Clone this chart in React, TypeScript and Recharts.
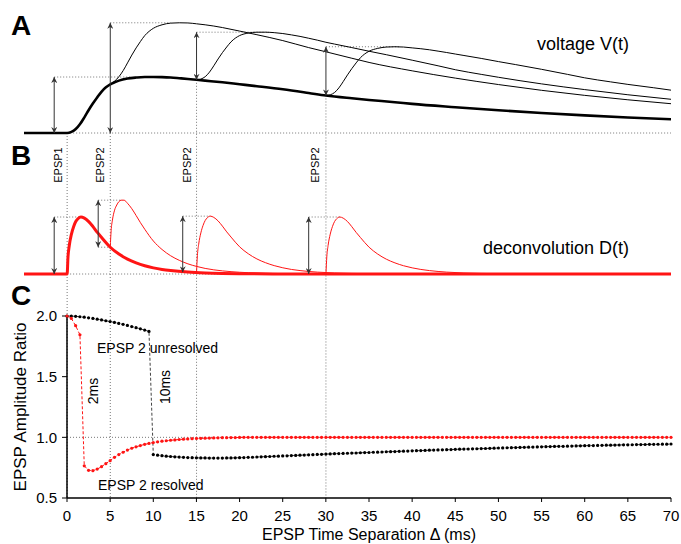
import React from 'react'
import { LineChart, Line, XAxis, YAxis, ReferenceLine } from 'recharts'

const W = 681
const H = 544
const FONT = '"Liberation Sans", Arial, Helvetica, sans-serif'
const GUIDE = '#777'
const ARROW = '#333'
const RED = '#ff1414'

// ---- panel A: voltage V(t), EPSP1 peak = 1 ----
const epsp1Time = [-5, 0, 0.5, 1, 1.5, 2, 2.5, 3, 3.5, 4, 4.5, 5, 5.5, 6, 7, 8, 9, 10, 11, 12, 13, 14, 15, 16, 18, 20, 22, 25, 28, 30, 33, 35, 38, 40, 45, 50, 55, 60, 65, 70]
const epsp1Volt = [0, 0, 0.02, 0.07, 0.16, 0.28, 0.41, 0.53, 0.64, 0.74, 0.815, 0.87, 0.905, 0.935, 0.972, 0.99, 1.0, 1.0, 0.997, 0.99, 0.978, 0.965, 0.95, 0.935, 0.905, 0.87, 0.835, 0.78, 0.715, 0.67, 0.62, 0.59, 0.55, 0.52, 0.46, 0.405, 0.357, 0.315, 0.278, 0.245]

const pair5Time = [5, 5.5, 6, 6.5, 7, 7.5, 8, 8.5, 9, 9.5, 10, 11, 12, 13, 14, 15, 16, 17, 18, 20, 22, 25, 28, 30, 33, 35, 40, 45, 50, 55, 60, 65, 70]
const pair5Volt = [0.87, 0.925, 1.005, 1.115, 1.252, 1.392, 1.52, 1.635, 1.74, 1.815, 1.87, 1.932, 1.962, 1.968, 1.965, 1.95, 1.932, 1.91, 1.883, 1.82, 1.755, 1.65, 1.525, 1.45, 1.335, 1.26, 1.11, 0.98, 0.865, 0.762, 0.672, 0.593, 0.523]

const pair15Time = [15, 15.5, 16, 16.5, 17, 17.5, 18, 18.5, 19, 19.5, 20, 21, 22, 23, 24, 25, 26, 27, 28, 29, 30, 31, 33, 35, 37, 40, 43, 45, 48, 50, 55, 60, 65, 70]
const pair15Volt = [0.95, 0.963, 1.005, 1.087, 1.2, 1.322, 1.435, 1.536, 1.628, 1.694, 1.74, 1.785, 1.8, 1.8, 1.792, 1.776, 1.752, 1.725, 1.692, 1.658, 1.62, 1.588, 1.525, 1.46, 1.398, 1.3, 1.2, 1.13, 1.047, 0.995, 0.877, 0.775, 0.683, 0.602]

const pair30Time = [30, 30.5, 31, 31.5, 32, 32.5, 33, 33.5, 34, 34.5, 35, 36, 37, 38, 39, 40, 41, 42, 43, 44, 45, 46, 48, 50, 52, 55, 58, 60, 63, 65, 68, 70]
const pair30Volt = [0.67, 0.682, 0.723, 0.805, 0.917, 1.038, 1.15, 1.252, 1.345, 1.412, 1.46, 1.511, 1.535, 1.54, 1.535, 1.52, 1.505, 1.486, 1.462, 1.437, 1.41, 1.384, 1.332, 1.275, 1.221, 1.137, 1.047, 0.985, 0.913, 0.868, 0.808, 0.765]

// ---- panel B: deconvolution D(t), EPSP1 peak = 1 ----
const dec1Time = [-5, 0, 0.1, 0.25, 0.5, 0.75, 1, 1.25, 1.6, 2, 2.5, 3, 3.5, 4, 5, 6, 7, 8, 9, 10, 11, 12, 14, 16, 18, 20, 25, 30, 70]
const dec1Val = [0, 0, 0.3, 0.5, 0.7, 0.83, 0.92, 0.97, 1.0, 0.98, 0.92, 0.83, 0.73, 0.64, 0.47, 0.35, 0.26, 0.195, 0.145, 0.108, 0.08, 0.06, 0.033, 0.018, 0.01, 0.006, 0.001, 0, 0]

const dec5Time = [5, 5.1, 5.25, 5.5, 5.75, 6, 6.25, 6.6, 7, 7.5, 8, 8.5, 9, 10, 11, 12, 13, 14, 15, 16, 17, 19, 21, 23, 25, 30, 35]
const dec5Val = [0.47, 0.76, 0.945, 1.12, 1.21, 1.27, 1.295, 1.295, 1.24, 1.145, 1.025, 0.9, 0.785, 0.578, 0.43, 0.32, 0.24, 0.178, 0.133, 0.098, 0.073, 0.041, 0.023, 0.013, 0.007, 0.001, 0]

const dec15Time = [15, 15.1, 15.25, 15.5, 15.75, 16, 16.25, 16.6, 17, 17.5, 18, 18.5, 19, 20, 21, 22, 23, 24, 25, 26, 27, 29, 31, 33, 35, 40, 45]
const dec15Val = [0.025, 0.324, 0.523, 0.721, 0.85, 0.938, 0.987, 1.015, 0.993, 0.931, 0.84, 0.739, 0.648, 0.476, 0.355, 0.264, 0.198, 0.147, 0.109, 0.08, 0.06, 0.033, 0.018, 0.01, 0.006, 0.001, 0]

const dec30Time = [30, 30.1, 30.25, 30.5, 30.75, 31, 31.25, 31.6, 32, 32.5, 33, 33.5, 34, 35, 36, 37, 38, 39, 40, 41, 42, 44, 46, 48, 50, 55, 60]
const dec30Val = [0, 0.3, 0.5, 0.7, 0.83, 0.92, 0.97, 1.0, 0.98, 0.92, 0.83, 0.73, 0.64, 0.47, 0.35, 0.26, 0.195, 0.145, 0.108, 0.08, 0.06, 0.033, 0.018, 0.01, 0.006, 0.001, 0]

// ---- panel C: amplitude ratio vs separation ----
const deltaMs = [
  0, 0.5, 1, 1.5, 2, 2.5, 3, 3.5, 4, 4.5, 5, 5.5, 6, 6.5, 7, 7.5, 8, 8.5, 9, 9.5,
  10, 10.5, 11, 11.5, 12, 12.5, 13, 13.5, 14, 14.5, 15, 15.5, 16, 16.5, 17, 17.5, 18, 18.5, 19, 19.5,
  20, 20.5, 21, 21.5, 22, 22.5, 23, 23.5, 24, 24.5, 25, 25.5, 26, 26.5, 27, 27.5, 28, 28.5, 29, 29.5,
  30, 30.5, 31, 31.5, 32, 32.5, 33, 33.5, 34, 34.5, 35, 35.5, 36, 36.5, 37, 37.5, 38, 38.5, 39, 39.5,
  40, 40.5, 41, 41.5, 42, 42.5, 43, 43.5, 44, 44.5, 45, 45.5, 46, 46.5, 47, 47.5, 48, 48.5, 49, 49.5,
  50, 50.5, 51, 51.5, 52, 52.5, 53, 53.5, 54, 54.5, 55, 55.5, 56, 56.5, 57, 57.5, 58, 58.5, 59, 59.5,
  60, 60.5, 61, 61.5, 62, 62.5, 63, 63.5, 64, 64.5, 65, 65.5, 66, 66.5, 67, 67.5, 68, 68.5, 69, 69.5,
  70,
]
const ratioUnresolved = [
  2.0, 1.999, 1.997, 1.994, 1.99, 1.985, 1.98, 1.974, 1.968, 1.961, 1.954, 1.947, 1.939, 1.931, 1.922, 1.913, 1.904, 1.894, 1.884, 1.873,
  0.858, 0.853, 0.849, 0.845, 0.842, 0.839, 0.837, 0.835, 0.833, 0.832, 0.831, 0.83, 0.83, 0.829, 0.829, 0.829, 0.829, 0.83, 0.83, 0.831,
  0.832, 0.833, 0.835, 0.836, 0.838, 0.839, 0.841, 0.842, 0.844, 0.845, 0.847, 0.848, 0.85, 0.851, 0.853, 0.854, 0.856, 0.857, 0.859, 0.86,
  0.862, 0.863, 0.865, 0.866, 0.867, 0.869, 0.87, 0.871, 0.873, 0.874, 0.875, 0.877, 0.878, 0.879, 0.881, 0.882, 0.883, 0.885, 0.886, 0.887,
  0.889, 0.89, 0.891, 0.892, 0.894, 0.895, 0.896, 0.897, 0.898, 0.899, 0.901, 0.902, 0.903, 0.904, 0.905, 0.906, 0.907, 0.908, 0.909, 0.911,
  0.912, 0.913, 0.914, 0.915, 0.916, 0.917, 0.918, 0.919, 0.92, 0.921, 0.922, 0.923, 0.924, 0.925, 0.926, 0.926, 0.927, 0.928, 0.929, 0.93,
  0.931, 0.932, 0.932, 0.933, 0.934, 0.935, 0.935, 0.936, 0.937, 0.938, 0.938, 0.939, 0.94, 0.94, 0.941, 0.942, 0.942, 0.943, 0.944, 0.944,
  0.945,
]
const ratioResolved = [
  2.0, 1.98, 1.92, 1.845, 0.765, 0.728, 0.725, 0.738, 0.758, 0.783, 0.808, 0.835, 0.858, 0.877, 0.895, 0.91, 0.922, 0.932, 0.942, 0.95,
  0.957, 0.963, 0.968, 0.972, 0.976, 0.979, 0.982, 0.985, 0.987, 0.989, 0.991, 0.992, 0.993, 0.994, 0.995, 0.996, 0.997, 0.997, 0.998, 0.998,
  0.999, 1, 1, 1, 1, 1, 1, 1, 1, 1, 1, 1, 1, 1, 1, 1, 1, 1, 1, 1,
  1, 1, 1, 1, 1, 1, 1, 1, 1, 1, 1, 1, 1, 1, 1, 1, 1, 1, 1, 1,
  1, 1, 1, 1, 1, 1, 1, 1, 1, 1, 1, 1, 1, 1, 1, 1, 1, 1, 1, 1,
  1, 1, 1, 1, 1, 1, 1, 1, 1, 1, 1, 1, 1, 1, 1, 1, 1, 1, 1, 1,
  1, 1, 1, 1, 1, 1, 1, 1, 1, 1, 1, 1, 1, 1, 1, 1, 1, 1, 1, 1,
  1,
]
const xTicks = [0, 5, 10, 15, 20, 25, 30, 35, 40, 45, 50, 55, 60, 65, 70]
const yTicks = [0.5, 1.0, 1.5, 2.0]

// stimulus times and where their guide lines start on the voltage trace
const stimTimes = [0, 5, 15, 30]
const stimStartA = [0, 0, 0.95, 0.67]

// amplitude arrows (t, from, to) and dotted guides (level, from t, to t)
const arrowsA = [
  { t: -1.5, lo: 0, hi: 1.0 },
  { t: 5, lo: 0, hi: 1.968 },
  { t: 15, lo: 0.95, hi: 1.8 },
  { t: 30, lo: 0.67, hi: 1.54 },
]
const guidesA = [
  { y: 0, from: 0, to: 70 },
  { y: 1.0, from: -1.5, to: 7.5 },
  { y: 1.968, from: 5, to: 12 },
  { y: 1.8, from: 15, to: 23.4 },
  { y: 1.54, from: 30, to: 38.5 },
]
const arrowsB = [
  { t: -1.5, lo: 0, hi: 1.0 },
  { t: 3.6, lo: 0.47, hi: 1.295 },
  { t: 13.4, lo: 0.03, hi: 1.015 },
  { t: 28, lo: 0, hi: 1.0 },
]
const guidesB = [
  { y: 0, from: 0, to: 70 },
  { y: 1.0, from: -1.5, to: 1.6 },
  { y: 1.295, from: 3.6, to: 6.4 },
  { y: 0.47, from: 3.6, to: 5 },
  { y: 1.015, from: 13.4, to: 16.6 },
  { y: 1.0, from: 28, to: 31.6 },
]

const zip = (ts: number[], vs: number[]) => ts.map((t, i) => ({ t, v: vs[i] }))

// layout of the stacked A/B panels (both share the same pixel frame)
const PLOT_TOP = 5
const PLOT_BOTTOM = 498
const A_BASE = 133
const A_UNIT = 56
const B_BASE = 274
const B_UNIT = 57
const aDomain = [(A_BASE - PLOT_BOTTOM) / A_UNIT, (A_BASE - PLOT_TOP) / A_UNIT]
const bDomain = [(B_BASE - PLOT_BOTTOM) / B_UNIT, (B_BASE - PLOT_TOP) / B_UNIT]

const arrowShape = (p: any) => (
  <line x1={p.x1} y1={p.y1} x2={p.x2} y2={p.y2} stroke={ARROW} strokeWidth={1}
    markerStart="url(#arrowHead)" markerEnd="url(#arrowHead)" />
)

function TracesChart() {
  return (
    <LineChart width={W} height={H} margin={{ top: PLOT_TOP, right: 10, bottom: H - PLOT_BOTTOM, left: 24 }}>
      <XAxis dataKey="t" type="number" domain={[-5, 70]} allowDataOverflow hide />
      <YAxis yAxisId="A" type="number" domain={aDomain} allowDataOverflow hide />
      <YAxis yAxisId="B" type="number" domain={bDomain} allowDataOverflow hide />

      {stimTimes.map((t, i) => (
        <ReferenceLine key={'stim' + i} yAxisId="A" ifOverflow="visible"
          segment={[{ x: t, y: stimStartA[i] }, { x: t, y: aDomain[0] }]}
          stroke={GUIDE} strokeDasharray="1 2" />
      ))}
      {guidesA.map((g, i) => (
        <ReferenceLine key={'ga' + i} yAxisId="A" ifOverflow="visible"
          segment={[{ x: g.from, y: g.y }, { x: g.to, y: g.y }]}
          stroke={GUIDE} strokeDasharray="1 2" />
      ))}
      {guidesB.map((g, i) => (
        <ReferenceLine key={'gb' + i} yAxisId="B" ifOverflow="visible"
          segment={[{ x: g.from, y: g.y }, { x: g.to, y: g.y }]}
          stroke={GUIDE} strokeDasharray="1 2" />
      ))}

      <Line yAxisId="A" data={zip(pair5Time, pair5Volt)} dataKey="v" type="monotone" stroke="#000" strokeWidth={1} dot={false} isAnimationActive={false} />
      <Line yAxisId="A" data={zip(pair15Time, pair15Volt)} dataKey="v" type="monotone" stroke="#000" strokeWidth={1} dot={false} isAnimationActive={false} />
      <Line yAxisId="A" data={zip(pair30Time, pair30Volt)} dataKey="v" type="monotone" stroke="#000" strokeWidth={1} dot={false} isAnimationActive={false} />
      <Line yAxisId="A" data={zip(epsp1Time, epsp1Volt)} dataKey="v" type="monotone" stroke="#000" strokeWidth={2.6} dot={false} isAnimationActive={false} />

      <Line yAxisId="B" data={zip(dec5Time, dec5Val)} dataKey="v" type="monotone" stroke={RED} strokeWidth={1} dot={false} isAnimationActive={false} />
      <Line yAxisId="B" data={zip(dec15Time, dec15Val)} dataKey="v" type="monotone" stroke={RED} strokeWidth={1} dot={false} isAnimationActive={false} />
      <Line yAxisId="B" data={zip(dec30Time, dec30Val)} dataKey="v" type="monotone" stroke={RED} strokeWidth={1} dot={false} isAnimationActive={false} />
      <Line yAxisId="B" data={zip(dec1Time, dec1Val)} dataKey="v" type="monotone" stroke={RED} strokeWidth={3} dot={false} isAnimationActive={false} />

      {arrowsA.map((a, i) => (
        <ReferenceLine key={'aa' + i} yAxisId="A" ifOverflow="visible"
          segment={[{ x: a.t, y: a.lo }, { x: a.t, y: a.hi }]} shape={arrowShape} />
      ))}
      {arrowsB.map((a, i) => (
        <ReferenceLine key={'ab' + i} yAxisId="B" ifOverflow="visible"
          segment={[{ x: a.t, y: a.lo }, { x: a.t, y: a.hi }]} shape={arrowShape} />
      ))}
    </LineChart>
  )
}

function RatioChart() {
  return (
    <LineChart width={W} height={H} margin={{ top: 316, right: 10, bottom: 0, left: 0 }}>
      <XAxis dataKey="t" type="number" domain={[0, 70]} ticks={xTicks} interval={0} height={46}
        tickSize={4} tickMargin={8} tick={{ fontSize: 15, fill: '#000' }}
        axisLine={{ stroke: '#000', strokeWidth: 1.5 }} tickLine={{ stroke: '#000' }}
        label={{ value: 'EPSP Time Separation Δ (ms)', position: 'insideBottom', offset: 4, fontSize: 16, fill: '#000' }} />
      <YAxis type="number" domain={[0.5, 2]} ticks={yTicks} interval={0} width={67}
        tickSize={5} tickMargin={5} tickFormatter={(v: number) => v.toFixed(1)}
        tick={{ fontSize: 15, fill: '#000' }}
        axisLine={{ stroke: '#000', strokeWidth: 1.5 }} tickLine={{ stroke: '#000' }}
        label={{ value: 'EPSP Amplitude Ratio', angle: -90, position: 'insideLeft', offset: 20, fontSize: 17, fill: '#000', style: { textAnchor: 'middle' } }} />
      <ReferenceLine y={1} stroke={GUIDE} strokeDasharray="1 2" />
      <Line data={zip(deltaMs, ratioUnresolved)} dataKey="v" type="linear" stroke="#444" strokeWidth={1}
        strokeDasharray="3 2" dot={{ r: 1.6, fill: '#000', stroke: 'none' }} isAnimationActive={false} />
      <Line data={zip(deltaMs, ratioResolved)} dataKey="v" type="linear" stroke={RED} strokeWidth={1}
        strokeDasharray="3 2" dot={{ r: 1.6, fill: RED, stroke: 'none' }} isAnimationActive={false} />
    </LineChart>
  )
}

function Annotations() {
  const rot = (x: number, y: number, s: string, size: number) => (
    <text transform={`translate(${x},${y}) rotate(-90)`} textAnchor="middle" dominantBaseline="central" fontSize={size}>{s}</text>
  )
  return (
    <svg width={W} height={H} style={{ position: 'absolute', left: 0, top: 0, pointerEvents: 'none' }} fontFamily={FONT} fill="#000">
      <defs>
        <marker id="arrowHead" viewBox="0 0 8 8" refX="8" refY="4" markerWidth="6" markerHeight="6"
          markerUnits="userSpaceOnUse" orient="auto-start-reverse">
          <path d="M0,0 L8,4 L0,8 L2.5,4 z" fill={ARROW} />
        </marker>
      </defs>
      <text x={11} y={35} fontSize={28} fontWeight="bold">A</text>
      <text x={11} y={165} fontSize={28} fontWeight="bold">B</text>
      <text x={11} y={305} fontSize={28} fontWeight="bold">C</text>
      <text x={537} y={50} fontSize={18}>voltage V(t)</text>
      <text x={483} y={254} fontSize={18}>deconvolution D(t)</text>
      {rot(58, 165, 'EPSP1', 11)}
      {rot(100, 165, 'EPSP2', 11)}
      {rot(187, 165, 'EPSP2', 11)}
      {rot(315, 165, 'EPSP2', 11)}
      <text x={97} y={353} fontSize={14}>EPSP 2 unresolved</text>
      <text x={98} y={490} fontSize={14}>EPSP 2 resolved</text>
      {rot(93, 391, '2ms', 14)}
      {rot(165, 387, '10ms', 14)}
    </svg>
  )
}

export default function App() {
  return (
    <div style={{ position: 'absolute', left: 0, top: 0, width: W, height: H, background: '#fff', fontFamily: FONT }}>
      <div style={{ position: 'absolute', left: 0, top: 0 }}>
        <TracesChart />
      </div>
      <div style={{ position: 'absolute', left: 0, top: 0 }}>
        <RatioChart />
      </div>
      <Annotations />
    </div>
  )
}
